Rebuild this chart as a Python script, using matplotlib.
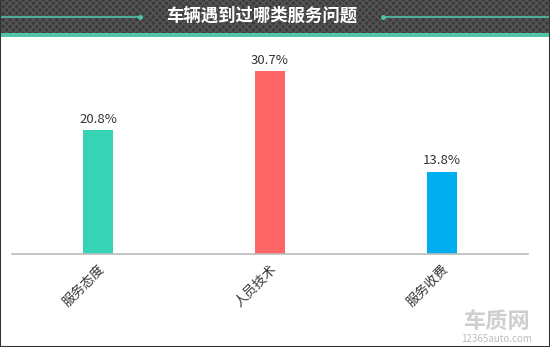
import numpy as np
import matplotlib.pyplot as plt
from matplotlib.patches import Rectangle

plt.rcParams['font.family'] = ['Noto Sans CJK SC', 'DejaVu Sans']

categorias = ['服务态度', '人员技术', '服务收费']
valores = [20.8, 30.7, 13.8]
cores = ['#36d3b4', '#fe6567', '#00aeef']
titulo = '车辆遇到过哪类服务问题'

fig = plt.figure(figsize=(5.5, 3.47), dpi=100)
W, H = 550, 347

# cabeçalho escuro com padrão
cab = fig.add_axes([0, 1 - 33 / H, 1, 33 / H])
cab.set_xlim(0, W)
cab.set_ylim(0, 33)
cab.axis('off')
cab.add_patch(Rectangle((0, 0), W, 33, facecolor='#3b3b3b', edgecolor='#565656',
                        hatch='xxxxx', linewidth=0))
cab.plot([0, 140], [16.5, 16.5], color='#4fc2a6', lw=1.2)
cab.plot([383, W], [16.5, 16.5], color='#4fc2a6', lw=1.2)
cab.plot([140, 383], [16.5, 16.5], 'o', color='#4fc2a6', ms=2.5)
cab.text(W / 2 - 13, 17, titulo, color='white', fontsize=12.5, fontweight='bold',
         ha='center', va='center')

# faixa verde
faixa = fig.add_axes([0, 1 - 37 / H, 1, 4 / H])
faixa.axis('off')
faixa.add_patch(Rectangle((0, 0), 1, 1, facecolor='#52c3a6', transform=faixa.transAxes))

# gráfico de barras
ax = fig.add_axes([12 / W, 1 - 254 / H, 516 / W, 214 / H])
x = np.arange(len(categorias))
ax.bar(x, valores, width=0.17, color=cores)
for xi, v in zip(x, valores):
    ax.text(xi, v + 0.7, f'{v}%', ha='center', va='bottom', fontsize=9.5, color='#333333')

ax.set_xlim(-0.5, 2.5)
ax.set_ylim(0, 214 / 5.97)
ax.set_xticks(x)
ax.set_xticklabels(categorias, rotation=45, ha='right', rotation_mode='anchor',
                   fontsize=9.5, color='#333333')
ax.tick_params(axis='x', length=0, pad=6)
ax.set_yticks([])
for lado in ['top', 'right', 'left']:
    ax.spines[lado].set_visible(False)
ax.spines['bottom'].set_color('#bbbbbb')
ax.spines['bottom'].set_linewidth(1.2)

# marca d'água
fig.text(497 / W, 1 - 321 / H, '车质网', fontsize=16, color='#cfcfcf',
         ha='center', va='center', fontweight='bold')
fig.text(497 / W, 1 - 339 / H, '12365auto.com', fontsize=7, color='#bdbdbd',
         ha='center', va='center')

# borda
borda = fig.add_axes([0, 0, 1, 1], facecolor='none')
borda.set_xticks([])
borda.set_yticks([])
for s in borda.spines.values():
    s.set_color('#333333')
    s.set_linewidth(1.5)
borda.spines['top'].set_visible(False)

fig.savefig('out.png', dpi=100)
